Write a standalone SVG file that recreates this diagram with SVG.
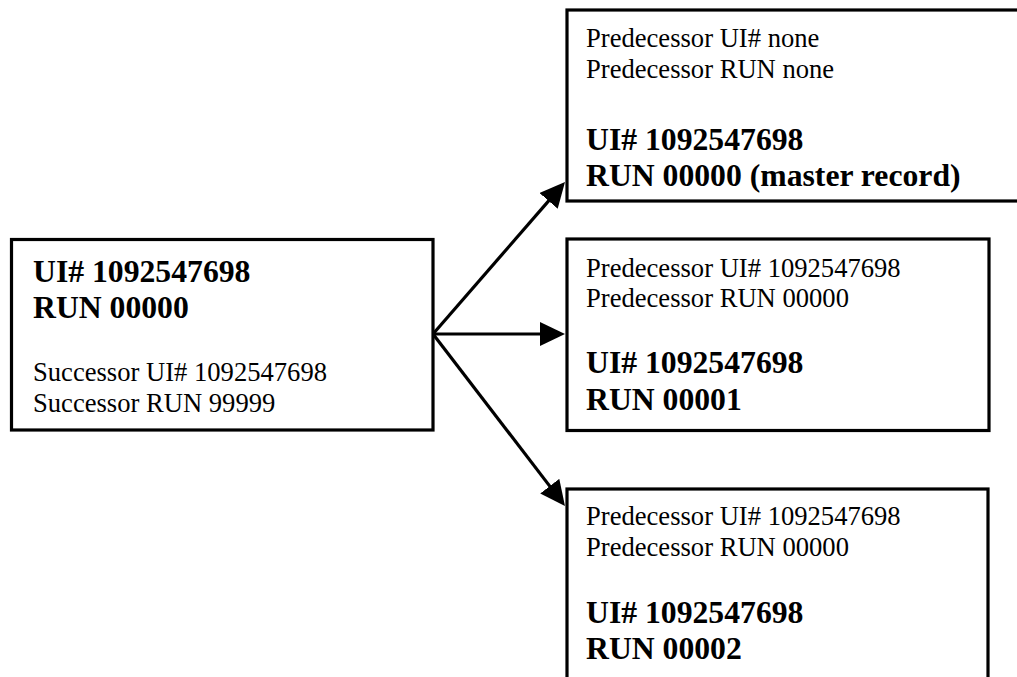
<svg xmlns="http://www.w3.org/2000/svg" width="1017" height="677" viewBox="0 0 1017 677">
<style>
.box{fill:#fff;stroke:#000;stroke-width:3.2}
.b{font-family:"Liberation Serif","Times New Roman",serif;font-weight:bold;font-size:31.7px;fill:#000}
.r{font-family:"Liberation Serif","Times New Roman",serif;font-size:26.6px;fill:#000}
.conn{stroke:#000;stroke-width:3.2;fill:none;marker-end:url(#ah)}
</style>
<defs>
<marker id="ah" markerUnits="userSpaceOnUse" markerWidth="26" markerHeight="24" refX="5" refY="12" orient="auto" viewBox="0 0 26 24">
<path d="M0,0 L25,12 L0,24 z" fill="#000"/>
</marker>
</defs>
<rect width="1017" height="677" fill="#fff"/>
<g id="connectors">
<line class="conn" x1="433" y1="334" x2="551.9" y2="197.1"/>
<line class="conn" x1="433" y1="334" x2="545" y2="334"/>
<line class="conn" x1="433" y1="334" x2="552.8" y2="490.1"/>
</g>
<g id="node-source">
<rect class="box" x="11.5" y="239.5" width="421.5" height="190.5"/>
<text class="b" x="33" y="282">UI# 1092547698</text>
<text class="b" x="33" y="317.5">RUN 00000</text>
<text class="r" x="33" y="380.5">Successor UI# 1092547698</text>
<text class="r" x="33" y="411.5">Successor RUN 99999</text>
</g>
<g id="node-master">
<rect class="box" x="567" y="10" width="470" height="191"/>
<text class="r" x="586" y="46.5">Predecessor UI# none</text>
<text class="r" x="586" y="77.5">Predecessor RUN none</text>
<text class="b" x="586" y="150">UI# 1092547698</text>
<text class="b" x="586" y="185.5">RUN 00000 (master record)</text>
</g>
<g id="node-run1">
<rect class="box" x="567" y="239" width="422" height="191.5"/>
<text class="r" x="586" y="276.5">Predecessor UI# 1092547698</text>
<text class="r" x="586" y="307">Predecessor RUN 00000</text>
<text class="b" x="586" y="373">UI# 1092547698</text>
<text class="b" x="586" y="409.5">RUN 00001</text>
</g>
<g id="node-run2">
<rect class="box" x="567" y="489" width="421" height="220"/>
<text class="r" x="586" y="525">Predecessor UI# 1092547698</text>
<text class="r" x="586" y="556">Predecessor RUN 00000</text>
<text class="b" x="586" y="622.5">UI# 1092547698</text>
<text class="b" x="586" y="659">RUN 00002</text>
</g>
</svg>
